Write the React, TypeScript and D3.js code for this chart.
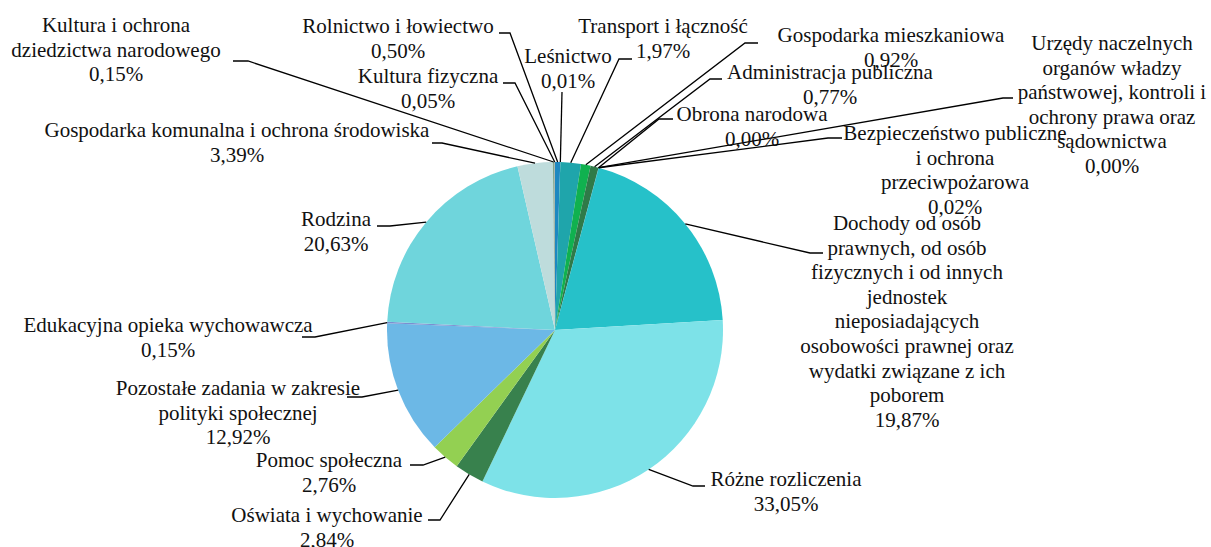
import React from 'react';
import * as d3 from 'd3';

// slice names, clockwise from 12 o'clock ("\n" = line break in the label)
const categories = [
  'Rolnictwo i łowiectwo',
  'Leśnictwo',
  'Transport i łączność',
  'Gospodarka mieszkaniowa',
  'Administracja publiczna',
  'Urzędy naczelnych\norganów władzy\npaństwowej, kontroli i\nochrony prawa oraz\nsądownictwa',
  'Obrona narodowa',
  'Bezpieczeństwo publiczne\ni ochrona\nprzeciwpożarowa',
  'Dochody od osób\nprawnych, od osób\nfizycznych i od innych\njednostek\nnieposiadających\nosobowości prawnej oraz\nwydatki związane z ich\npoborem',
  'Różne rozliczenia',
  'Oświata i wychowanie',
  'Pomoc społeczna',
  'Pozostałe zadania w zakresie\npolityki społecznej',
  'Edukacyjna opieka wychowawcza',
  'Rodzina',
  'Gospodarka komunalna i ochrona środowiska',
  'Kultura i ochrona\ndziedzictwa narodowego',
  'Kultura fizyczna',
];

// share of expenditure, %
const values = [
  0.5, 0.01, 1.97, 0.92, 0.77, 0.0, 0.0, 0.02, 19.87, 33.05, 2.84, 2.76, 12.92,
  0.15, 20.63, 3.39, 0.15, 0.05,
];

const colors = [
  '#1e88c0', '#5b9bd5', '#1fa5ab', '#10b14f', '#2f7a48', '#4472c4', '#a5a5a5',
  '#264478', '#26c1c9', '#7de2e8', '#38814d', '#93d052', '#6cb8e6', '#7b8fd0',
  '#6fd5dc', '#bedcdc', '#7fa58c', '#9aa0a0',
];

// label placement: text centre, first baseline, leader (outer end, elbow, y)
const labelLayout = [
  { tx: 398, ty: 33, ax: 499, bx: 510, ly: 33 },
  { tx: 568, ty: 63, ax: 562, bx: 562, ly: 92 },
  { tx: 663, ty: 33, ax: 632, bx: 619, ly: 59 },
  { tx: 891, ty: 42, ax: 758, bx: 745, ly: 43 },
  { tx: 830, ty: 79, ax: 722, bx: 710, ly: 79 },
  { tx: 1112, ty: 50, ax: 1013, bx: 1003, ly: 98 },
  { tx: 752, ty: 121, ax: 673, bx: 659, ly: 119 },
  { tx: 955, ty: 140, ax: 842, bx: 828, ly: 138 },
  { tx: 907, ty: 230, ax: 823, bx: 810, ly: 253 },
  { tx: 786, ty: 486, ax: 705, bx: 693, ly: 486 },
  { tx: 327, ty: 522, ax: 428, bx: 440, ly: 520 },
  { tx: 329, ty: 467, ax: 410, bx: 423, ly: 465 },
  { tx: 238, ty: 395, ax: 347, bx: 362, ly: 397 },
  { tx: 168, ty: 332, ax: 302, bx: 315, ly: 337 },
  { tx: 336, ty: 226, ax: 377, bx: 390, ly: 226 },
  { tx: 237, ty: 137, ax: 432, bx: 442, ly: 143 },
  { tx: 116, ty: 32, ax: 233, bx: 248, ly: 61 },
  { tx: 428, ty: 83, ax: 503, bx: 515, ly: 83 },
];

const width = 1211;
const height = 547;
const cx = 555;
const cy = 330;
const radius = 168;
const lineHeight = 24.6;

const fmt = (v: number) => v.toFixed(2).replace('.', ',') + '%';

export default function App() {
  const pie = d3
    .pie<number>()
    .sort(null)
    .value((d) => d)
    .startAngle(0)
    .endAngle(2 * Math.PI);
  const arcs = pie(values);
  const arc = d3.arc<d3.PieArcDatum<number>>().innerRadius(0).outerRadius(radius);

  return (
    <svg
      width={width}
      height={height}
      style={{ position: 'absolute', left: 0, top: 0, background: '#fff' }}
      fontFamily="'Liberation Serif', 'Times New Roman', serif"
      fontSize={21}
    >
      <g transform={`translate(${cx},${cy})`}>
        {arcs.map((a, i) => (
          <path key={i} d={arc(a) || ''} fill={colors[i]} />
        ))}
      </g>
      {arcs.map((a, i) => {
        const L = labelLayout[i];
        const mid = (a.startAngle + a.endAngle) / 2;
        const ex = cx + radius * Math.sin(mid);
        const ey = cy - radius * Math.cos(mid);
        const lines = categories[i].split('\n').concat(fmt(values[i]));
        return (
          <g key={i}>
            <path
              d={`M${L.ax},${L.ly}L${L.bx},${L.ly}L${ex},${ey}`}
              fill="none"
              stroke="#000"
              strokeWidth={1.3}
            />
            <text textAnchor="middle" fill="#111">
              {lines.map((t, j) => (
                <tspan key={j} x={L.tx} y={L.ty + j * lineHeight}>
                  {t}
                </tspan>
              ))}
            </text>
          </g>
        );
      })}
    </svg>
  );
}
